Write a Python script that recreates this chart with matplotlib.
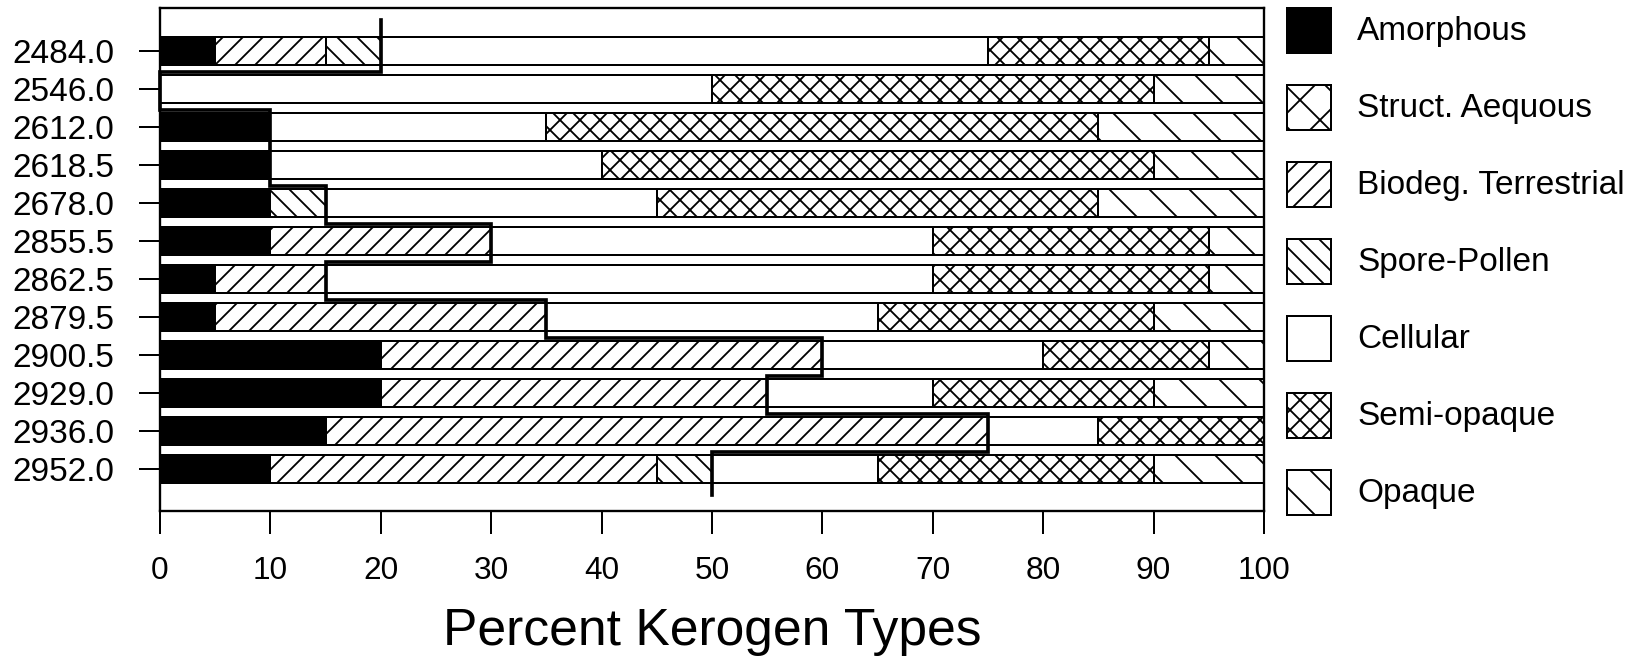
import numpy as np
import matplotlib
matplotlib.use("Agg")
import matplotlib.pyplot as plt
from matplotlib.patches import Rectangle

depths = ["2484.0", "2546.0", "2612.0", "2618.5", "2678.0", "2855.5",
          "2862.5", "2879.5", "2900.5", "2929.0", "2936.0", "2952.0"]

amorphous = [5, 0, 10, 10, 10, 10, 5, 5, 20, 20, 15, 10]
struct_aequous = [0, 0, 0, 0, 0, 0, 0, 0, 0, 0, 0, 0]
biodeg_terrestrial = [10, 0, 0, 0, 0, 20, 10, 30, 40, 35, 60, 35]
spore_pollen = [5, 0, 0, 0, 5, 0, 0, 0, 0, 0, 0, 5]
cellular = [55, 50, 25, 30, 30, 40, 55, 30, 20, 15, 10, 15]
semi_opaque = [20, 40, 50, 50, 40, 25, 25, 25, 15, 20, 15, 25]
opaque = [5, 10, 15, 10, 15, 5, 5, 10, 5, 10, 0, 10]

categories = ["Amorphous", "Struct. Aequous", "Biodeg. Terrestrial",
              "Spore-Pollen", "Cellular", "Semi-opaque", "Opaque"]
series = [amorphous, struct_aequous, biodeg_terrestrial, spore_pollen,
          cellular, semi_opaque, opaque]

facecolors = ["black", "white", "white", "white", "white", "white", "white"]
hatches = ["", "xx", "////", "\\\\\\\\", "", "xxxx", "\\\\"]

DPI = 240
W, H = 1638, 665

plt.rcParams["font.family"] = ["Liberation Sans", "DejaVu Sans"]
plt.rcParams["hatch.linewidth"] = 0.55
plt.rcParams["hatch.color"] = "black"

fig = plt.figure(figsize=(W / DPI, H / DPI), dpi=DPI)
ax = fig.add_axes([160 / W, 1 - 511 / H, 1104 / W, 503 / H])

y = np.arange(len(depths))
bar_h = 0.74
left = np.zeros(len(depths))
for vals, fc, ht in zip(series, facecolors, hatches):
    vals = np.array(vals, dtype=float)
    keep = vals > 0
    ax.barh(y[keep], vals[keep], left=left[keep], height=bar_h,
            color=fc, edgecolor="black", hatch=ht, linewidth=0.6)
    left += vals

# step line along the end of the amorphous..spore-pollen groups
bound = (np.array(amorphous) + np.array(struct_aequous)
         + np.array(biodeg_terrestrial) + np.array(spore_pollen))
off = 0.55
sx = [bound[0], bound[0]]
sy = [-0.82, 0 + off]
for i in range(1, len(bound)):
    sx += [bound[i], bound[i]]
    sy += [i - 1 + off, i + off]
sy[-1] = len(bound) - 1 + 0.68
ax.plot(sx, sy, color="black", lw=1.1, solid_joinstyle="miter", clip_on=False, zorder=5)

ax.set_xlim(0, 100)
ax.set_ylim(len(depths) - 1 + 1.1, -1.13)
ax.set_xticks(np.arange(0, 101, 10))
ax.set_yticks(y)
ax.set_yticklabels(depths)
ax.tick_params(axis="y", length=6.3, width=0.6, pad=7.5, labelsize=10)
ax.tick_params(axis="x", length=7, width=0.6, pad=6.6, labelsize=9.5)
for sp in ax.spines.values():
    sp.set_linewidth(0.7)
ax.set_xlabel("Percent Kerogen Types", fontsize=15.5, va="center")
ax.xaxis.set_label_coords(0.5, (511 - 632) / 503)

# legend drawn in pixel coordinates on an overlay axes
lax = fig.add_axes([0, 0, 1, 1])
lax.set_xlim(0, W)
lax.set_ylim(H, 0)
lax.axis("off")
for k, (name, fc, ht) in enumerate(zip(categories, facecolors, hatches)):
    cy = 30.5 + 77 * k
    lax.add_patch(Rectangle((1287, cy - 22.5), 44, 45, facecolor=fc,
                            edgecolor="black", hatch=ht, linewidth=0.6))
    lax.text(1357, cy + 1, name, fontsize=10, va="center", ha="left")

fig.savefig("out.png", dpi=DPI)
